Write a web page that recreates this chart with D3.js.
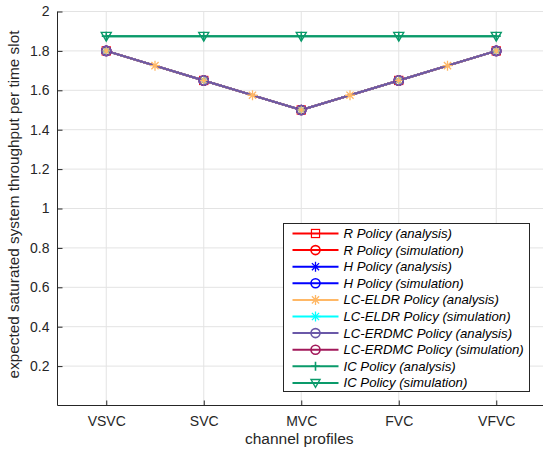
<!DOCTYPE html>
<html><head><meta charset="utf-8">
<script src="https://cdn.jsdelivr.net/npm/d3@7"></script>
<style>
body{margin:0;background:#fff;}
text{font-family:"Liberation Sans",Arial,sans-serif;}
</style></head>
<body><svg id="c" width="543" height="449"></svg>
<script>
const categories = ["VSVC","SVC","MVC","FVC","VFVC"];
const catPos = [1,2,3,4,5];
const yTicks = [0.2,0.4,0.6,0.8,1,1.2,1.4,1.6,1.8,2];
const rAnalysis   = [1.8,1.65,1.5,1.65,1.8];
const rSimulation = [1.8,1.65,1.5,1.65,1.8];
const hAnalysis   = [1.8,1.65,1.5,1.65,1.8];
const hSimulation = [1.8,1.65,1.5,1.65,1.8];
const eldrPos = [1,1.5,2,2.5,3,3.5,4,4.5,5];
const eldrAnalysis = [1.8,1.725,1.65,1.575,1.5,1.575,1.65,1.725,1.8];
const eldrSimulation = [1.8,1.65,1.5,1.65,1.8];
const erdmcAnalysis = [1.8,1.65,1.5,1.65,1.8];
const erdmcSimulation = [1.8,1.65,1.5,1.65,1.8];
const icAnalysis = [1.875,1.875,1.875,1.875,1.875];
const icSimulation = [1.875,1.875,1.875,1.875,1.875];

const series = [
 {name:"R Policy (analysis)", x:catPos, y:rAnalysis, color:"#ff0000", marker:"square"},
 {name:"R Policy (simulation)", x:catPos, y:rSimulation, color:"#ff0000", marker:"circle"},
 {name:"H Policy (analysis)", x:catPos, y:hAnalysis, color:"#0000ff", marker:"asterisk"},
 {name:"H Policy (simulation)", x:catPos, y:hSimulation, color:"#0000ff", marker:"circle"},
 {name:"LC-ELDR Policy (analysis)", x:eldrPos, y:eldrAnalysis, color:"#ffb866", marker:"asterisk"},
 {name:"LC-ELDR Policy (simulation)", x:catPos, y:eldrSimulation, color:"#00ffff", marker:"asterisk"},
 {name:"LC-ERDMC Policy (analysis)", x:catPos, y:erdmcAnalysis, color:"#6a58a8", marker:"circle"},
 {name:"LC-ERDMC Policy (simulation)", x:catPos, y:erdmcSimulation, color:"#a2185a", marker:"circle"},
 {name:"IC Policy (analysis)", x:catPos, y:icAnalysis, color:"#0a9a6a", marker:"plus"},
 {name:"IC Policy (simulation)", x:catPos, y:icSimulation, color:"#0a9a6a", marker:"triangleDown"}
];
// draw order: later ones on top
const drawOrder = [0,1,2,3,5,7,4,6,8,9];

const svg = d3.select("#c");
const L=57.5, R=545, T=11.5, B=405.5;
const x = d3.scaleLinear().domain([0.5,5.5]).range([L,R]);
const y = d3.scaleLinear().domain([0,2]).range([B,T]);
const axisColor="#262626";

// grid
const g = svg.append("g");
g.selectAll(".gx").data(catPos).enter().append("line")
 .attr("x1",d=>x(d)).attr("x2",d=>x(d)).attr("y1",T).attr("y2",B)
 .attr("stroke","#e3e3e3").attr("stroke-width",1);
g.selectAll(".gy").data(yTicks).enter().append("line")
 .attr("x1",L).attr("x2",R).attr("y1",d=>y(d)).attr("y2",d=>y(d))
 .attr("stroke","#e3e3e3").attr("stroke-width",1);

// axes
const xAxis = d3.axisBottom(x).tickValues(catPos).tickFormat((d,i)=>categories[i]).tickSizeInner(-5).tickSizeOuter(0).tickPadding(11);
const ax = svg.append("g").attr("transform",`translate(0,${B})`).call(xAxis);
const yAxis = d3.axisLeft(y).tickValues(yTicks).tickFormat(d3.format("~g")).tickSizeInner(-5).tickSizeOuter(0).tickPadding(8);
const ay = svg.append("g").attr("transform",`translate(${L},0)`).call(yAxis);
[ax,ay].forEach(a=>{
 a.select(".domain").attr("stroke",axisColor);
 a.selectAll(".tick line").attr("stroke",axisColor);
 a.selectAll(".tick text").attr("fill",axisColor).style("font-size","14px").style("font-family","'Liberation Sans',Arial,sans-serif");
});
ay.select(".domain").attr("d",`M0,${B}V${T}`);
ax.select(".domain").attr("d",`M${L},0H${R}`);

svg.append("text").attr("x",(L+R)/2-2).attr("y",444).attr("text-anchor","middle")
 .attr("fill",axisColor).style("font-size","15.5px").text("channel profiles");
svg.append("text").attr("transform",`translate(19,${(T+B)/2-4}) rotate(-90)`).attr("text-anchor","middle")
 .attr("fill",axisColor).style("font-size","15.3px").text("expected saturated system throughput per time slot");

function drawMarker(sel, type, cx, cy, color, s){
 const h=s/2;
 if(type==="square"){
  sel.append("rect").attr("x",cx-h*0.9).attr("y",cy-h*0.9).attr("width",s*0.9).attr("height",s*0.9)
   .attr("fill","none").attr("stroke",color).attr("stroke-width",1.2);
 } else if(type==="circle"){
  sel.append("circle").attr("cx",cx).attr("cy",cy).attr("r",h).attr("fill","none").attr("stroke",color).attr("stroke-width",1.6);
 } else if(type==="asterisk"){
  const d=h*0.72;
  sel.append("path").attr("d",`M${cx-h},${cy}H${cx+h}M${cx},${cy-h}V${cy+h}M${cx-d},${cy-d}L${cx+d},${cy+d}M${cx-d},${cy+d}L${cx+d},${cy-d}`)
   .attr("stroke",color).attr("stroke-width",1.3).attr("fill","none");
 } else if(type==="plus"){
  sel.append("path").attr("d",`M${cx-h},${cy}H${cx+h}M${cx},${cy-h}V${cy+h}`)
   .attr("stroke",color).attr("stroke-width",1.6).attr("fill","none");
 } else if(type==="triangleDown"){
  sel.append("path").attr("d",`M${cx-h},${cy-h*0.75}L${cx+h},${cy-h*0.75}L${cx},${cy+h}Z`)
   .attr("stroke",color).attr("stroke-width",1.4).attr("fill","none");
 }
}

const line = d3.line();
const plot = svg.append("g");
drawOrder.forEach(i=>{
 const s=series[i];
 const pts = s.x.map((xv,j)=>[x(xv),y(s.y[j])]);
 plot.append("path").attr("d",line(pts)).attr("fill","none").attr("stroke",s.color).attr("stroke-width",2);
});
drawOrder.forEach(i=>{
 const s=series[i];
 const mg=plot.append("g");
 s.x.forEach((xv,j)=>drawMarker(mg,s.marker,x(xv),y(s.y[j]),s.color,s.marker==="asterisk"?10:(s.marker==="triangleDown"?10:9)));
});

// legend
const lg = svg.append("g");
const lx=283.5, ly=223.5, lw=246, lh=168;
lg.append("rect").attr("x",lx).attr("y",ly).attr("width",lw).attr("height",lh)
 .attr("fill","#fff").attr("stroke","#262626").attr("stroke-width",1);
series.forEach((s,i)=>{
 const cy = ly+10+i*16.6;
 lg.append("line").attr("x1",lx+9).attr("x2",lx+55).attr("y1",cy).attr("y2",cy).attr("stroke",s.color).attr("stroke-width",2);
 drawMarker(lg,s.marker,lx+32,cy,s.color,s.marker==="asterisk"?10:9);
 lg.append("text").attr("x",lx+60).attr("y",cy+4.5).attr("fill","#000").style("font-size","13.2px").style("font-style","italic").text(s.name);
});
</script></body></html>
